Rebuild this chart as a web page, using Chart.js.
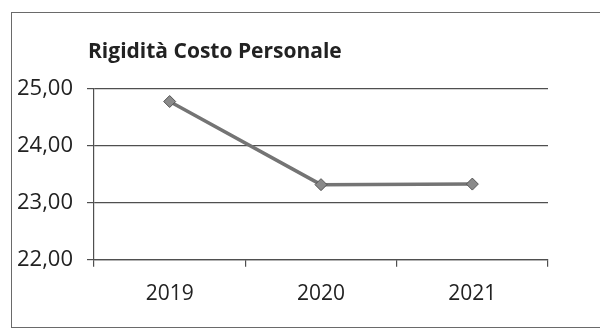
<!DOCTYPE html>
<html>
<head>
<meta charset="utf-8">
<script src="https://cdn.jsdelivr.net/npm/chart.js@4"></script>
<style>
    html, body { margin: 0; padding: 0; background: #ffffff; }
    #wrap { position: relative; width: 600px; height: 331px; overflow: hidden; }
    #frame {
        position: absolute; left: 11px; top: 12px; width: 620px; height: 314px;
        border: 1.5px solid #6a6a6a;
    }
    canvas { position: absolute; left: 0; top: 0; }
</style>
</head>
<body>
<div id="wrap">
    <div id="frame"></div>
    <canvas id="chart" width="600" height="331"></canvas>
</div>
<script>
const years = ['2019', '2020', '2021'];
const rigidita = [24.78, 23.32, 23.33];
const yTicks = [22, 23, 24, 25];
const chartTitle = 'Rigidità Costo Personale';

const colors = {
    line: '#747474',
    marker: '#8a8a8a',
    markerBorder: '#555555',
    grid: '#4f4f4f',
    text: '#222222'
};

const fontFamily = "'Open Sans', 'Noto Sans', sans-serif";

// title drawn at a fixed spot, like the scanned sheet
const titlePlugin = {
    id: 'sheetTitle',
    afterDraw(chart) {
        const ctx = chart.ctx;
        ctx.save();
        ctx.font = "700 21px " + fontFamily;
        ctx.fillStyle = colors.text;
        ctx.textAlign = 'left';
        ctx.textBaseline = 'alphabetic';
        ctx.fillText(chartTitle, 88, 58);
        ctx.restore();
    }
};

const ctx = document.getElementById('chart').getContext('2d');
new Chart(ctx, {
    type: 'line',
    data: {
        labels: years,
        datasets: [{
            data: rigidita,
            borderColor: colors.line,
            borderWidth: 3.5,
            pointStyle: 'rectRot',
            pointRadius: 6,
            pointBackgroundColor: colors.marker,
            pointBorderColor: colors.markerBorder,
            pointBorderWidth: 1,
            tension: 0,
            fill: false
        }]
    },
    options: {
        responsive: false,
        animation: false,
        layout: { padding: { top: 89, right: 52, bottom: 9, left: 0 } },
        plugins: {
            legend: { display: false },
            title: { display: false },
            tooltip: { enabled: false }
        },
        scales: {
            x: {
                offset: true,
                grid: {
                    offset: true,
                    drawOnChartArea: false,
                    drawTicks: true,
                    tickLength: 7,
                    color: colors.grid,
                    lineWidth: 1.2
                },
                border: { color: colors.grid, width: 1.2 },
                ticks: {
                    color: colors.text,
                    padding: 15,
                    font: { family: fontFamily, size: 21 }
                }
            },
            y: {
                min: yTicks[0],
                max: yTicks[yTicks.length - 1],
                afterFit: scale => { scale.width = 94; },
                afterBuildTicks: scale => { scale.ticks = yTicks.map(v => ({ value: v })); },
                grid: {
                    color: colors.grid,
                    lineWidth: 1.2,
                    tickLength: 7
                },
                border: { color: colors.grid, width: 1.2 },
                ticks: {
                    color: colors.text,
                    padding: 14,
                    font: { family: fontFamily, size: 22 },
                    callback: value => value.toFixed(2).replace('.', ',')
                }
            }
        }
    },
    plugins: [titlePlugin]
});
</script>
</body>
</html>
